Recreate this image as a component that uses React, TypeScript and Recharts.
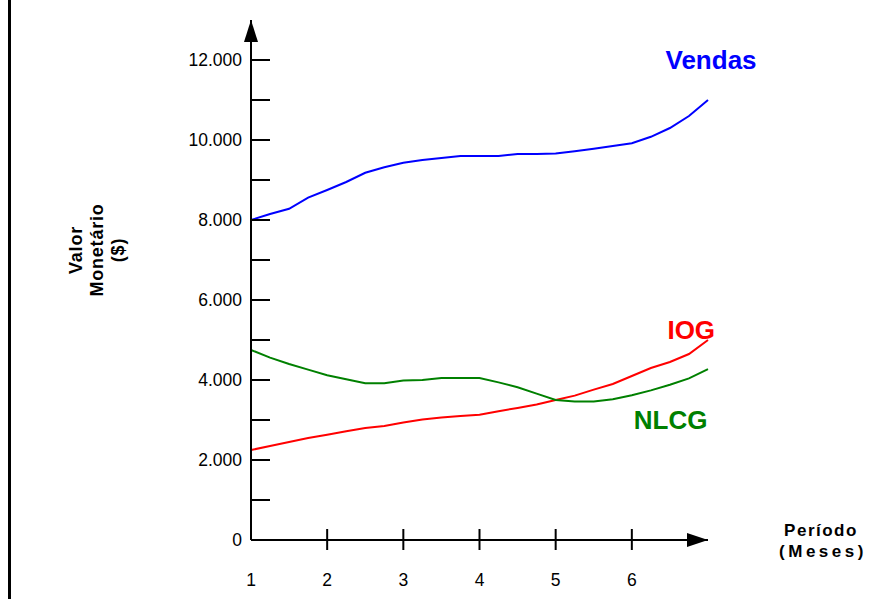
import React from 'react';
import { LineChart, Line, XAxis, YAxis, ReferenceDot, Label } from 'recharts';

// meses (passo de 1/4)
const meses = [1, 1.25, 1.5, 1.75, 2, 2.25, 2.5, 2.75, 3, 3.25, 3.5, 3.75, 4, 4.25, 4.5, 4.75, 5, 5.25, 5.5, 5.75, 6, 6.25, 6.5, 6.75, 7];

const vendas = [8000, 8150, 8280, 8560, 8750, 8950, 9180, 9320, 9430, 9500, 9550, 9600, 9600, 9600, 9650, 9650, 9660, 9720, 9780, 9850, 9920, 10080, 10300, 10600, 11000];
const iog = [2250, 2350, 2450, 2550, 2630, 2720, 2800, 2850, 2940, 3010, 3060, 3100, 3130, 3220, 3300, 3390, 3500, 3610, 3760, 3900, 4100, 4300, 4450, 4650, 5000];
const nlcg = [4750, 4560, 4400, 4260, 4120, 4020, 3920, 3920, 3990, 4000, 4050, 4050, 4050, 3940, 3820, 3660, 3500, 3460, 3460, 3520, 3620, 3740, 3880, 4040, 4270];

const yTicks = [0, 1000, 2000, 3000, 4000, 5000, 6000, 7000, 8000, 9000, 10000, 11000, 12000];
const yTickLabels = ['0', '', '2.000', '', '4.000', '', '6.000', '', '8.000', '', '10.000', '', '12.000'];
const xTicks = [1, 2, 3, 4, 5, 6];

const data = meses.map((m, i) => ({ mes: m, vendas: vendas[i], iog: iog[i], nlcg: nlcg[i] }));

const FONT = '"Liberation Sans", Arial, sans-serif';

const YTick = (props: any) => {
  const { x, y, payload } = props;
  const label = yTickLabels[yTicks.indexOf(payload.value)];
  return (
    <g>
      <line x1={x} x2={x + 19} y1={y} y2={y} stroke="#000" strokeWidth={2} />
      {label && (
        <text x={x - 9} y={y} dy="0.36em" textAnchor="end" fontSize={17.5} fill="#000" fontFamily={FONT}>
          {label}
        </text>
      )}
    </g>
  );
};

const XTick = (props: any) => {
  const { x, y, payload } = props;
  return (
    <g>
      {payload.value !== 1 && <line x1={x} x2={x} y1={y - 11} y2={y + 10} stroke="#000" strokeWidth={2} />}
      <text x={x} y={y + 40} dy="0.36em" textAnchor="middle" fontSize={17.5} fill="#000" fontFamily={FONT}>
        {payload.value}
      </text>
    </g>
  );
};

const YTitle = () => (
  <text transform="translate(97, 250) rotate(-90)" textAnchor="middle" fontSize={18} fontWeight="bold" fill="#000" fontFamily={FONT} letterSpacing={0.8}>
    <tspan x={0} y={-15}>Valor</tspan>
    <tspan x={0} y={6}>Monetário</tspan>
    <tspan x={0} y={27}>($)</tspan>
  </text>
);

const XTitle = () => (
  <text textAnchor="middle" fontSize={17} fontWeight="bold" fill="#000" fontFamily={FONT}>
    <tspan x={821} y={536} letterSpacing={1.5}>Período</tspan>
    <tspan x={823} y={557} letterSpacing={3.5}>(Meses)</tspan>
  </text>
);

const seriesLabel = (text: string, color: string) => (props: any) => (
  <text x={props.cx} y={props.cy} dy="0.36em" textAnchor="middle" fontSize={26} fontWeight="bold" fill={color} fontFamily={FONT}>
    {text}
  </text>
);

export default function App() {
  return (
    <div style={{ position: 'absolute', left: 0, top: 0, width: 890, height: 599, background: '#fff' }}>
      <div style={{ position: 'absolute', left: 8, top: 0, width: 3, height: 599, background: '#000' }} />
      <LineChart width={890} height={599} data={data} margin={{ top: 20, right: 182, bottom: 0, left: 0 }}>
        <XAxis
          dataKey="mes"
          type="number"
          domain={[1, 7]}
          ticks={xTicks}
          allowDecimals={false}
          height={59}
          tickSize={0}
          tickMargin={0}
          tickLine={false}
          axisLine={{ stroke: '#000', strokeWidth: 2 }}
          tick={<XTick />}
        >
          <Label content={<XTitle />} />
        </XAxis>
        <YAxis
          type="number"
          domain={[0, 13000]}
          ticks={yTicks}
          width={251}
          tickSize={0}
          tickMargin={0}
          tickLine={false}
          axisLine={{ stroke: '#000', strokeWidth: 2 }}
          tick={<YTick />}
        >
          <Label content={<YTitle />} />
        </YAxis>
        <Line type="linear" dataKey="vendas" stroke="#0000FF" strokeWidth={2} dot={false} isAnimationActive={false} />
        <Line type="linear" dataKey="iog" stroke="#FF0000" strokeWidth={2} dot={false} isAnimationActive={false} />
        <Line type="linear" dataKey="nlcg" stroke="#008000" strokeWidth={2} dot={false} isAnimationActive={false} />
        <ReferenceDot
          x={7}
          y={0}
          ifOverflow="visible"
          shape={(p: any) => <polygon points={`${p.cx},${p.cy} ${p.cx - 21},${p.cy - 7} ${p.cx - 21},${p.cy + 7}`} fill="#000" />}
        />
        <ReferenceDot
          x={1}
          y={13000}
          ifOverflow="visible"
          shape={(p: any) => <polygon points={`${p.cx},${p.cy} ${p.cx - 7},${p.cy + 22} ${p.cx + 7},${p.cy + 22}`} fill="#000" />}
        />
        <ReferenceDot x={7.04} y={12000} ifOverflow="visible" shape={seriesLabel('Vendas', '#0000FF')} />
        <ReferenceDot x={6.78} y={5250} ifOverflow="visible" shape={seriesLabel('IOG', '#FF0000')} />
        <ReferenceDot x={6.51} y={3000} ifOverflow="visible" shape={seriesLabel('NLCG', '#008000')} />
      </LineChart>
    </div>
  );
}
